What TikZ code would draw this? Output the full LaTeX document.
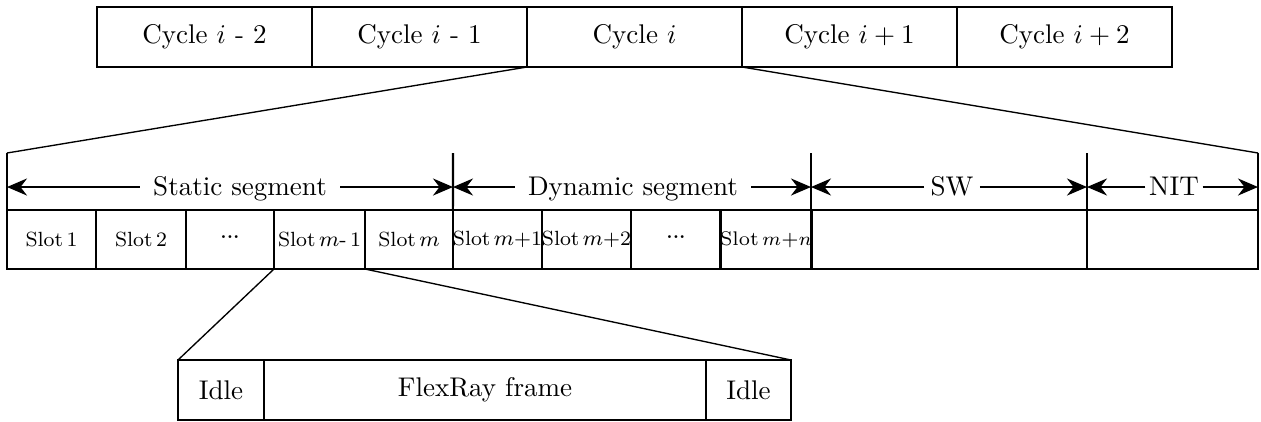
\documentclass[tikz,border=0pt]{standalone}
\usetikzlibrary{arrows.meta}
\newlength\pxl
\setlength\pxl{0.37pt}
\begin{document}
\begin{tikzpicture}[x=0.37pt,y=-0.37pt,
  box/.style={draw, line width=0.8pt, outer sep=0pt, inner sep=0pt,
    font=\fontsize{10}{12}\selectfont},
  cyc/.style={box, minimum width=215\pxl, minimum height=60\pxl},
  slot/.style={box, minimum height=59\pxl, font=\fontsize{7.6}{9}\selectfont},
  sub/.style={box, line width=0.45pt, minimum height=60\pxl},
  rule/.style={line width=0.8pt},
  zoomline/.style={line width=0.5pt},
  seglbl/.style={fill=white, inner ysep=0pt, text height=7.5pt, text depth=1.5pt,
    font=\fontsize{10}{12}\selectfont},
  dimarr/.style={line width=0.75pt, -{Stealth[length=7.4pt,width=6.3pt,inset=2.4pt]}}]
\useasboundingbox (0,0) rectangle (1261,421);

% communication cycles
\node[cyc] (c1) at (204.5,37) {Cycle $i$ - 2};
\node[cyc] (c2) at (419.5,37) {Cycle $i$ - 1};
\node[cyc] (c3) at (634.5,37) {Cycle $i$};
\node[cyc] (c4) at (849.5,37) {Cycle $i+1$};
\node[cyc] (c5) at (1064.5,37) {Cycle $i+2$};

% slots of one cycle
\newcommand\dotsmark{\raisebox{1.6pt}{\fontsize{6.5}{7}\selectfont\textbf{...}}}
\node[slot, minimum width=89\pxl]  (s1) at (51.5,239.5)  {Slot\,1};
\node[slot, minimum width=90\pxl]  (s2) at (141,239.5)   {Slot\,2};
\node[slot, minimum width=88\pxl]  (s3) at (230,239.5)   {\dotsmark};
\node[slot, minimum width=91\pxl]  (s4) at (319.5,239.5) {Slot\,$m$-\,1};
\node[slot, minimum width=88\pxl]  (s5) at (409,239.5)   {Slot\,$m$};
\node[slot, minimum width=89\pxl]  (s6) at (497.5,239.5) {Slot\,$m$+1};
\node[slot, minimum width=89\pxl]  (s7) at (586.5,239.5) {Slot\,$m$+2};
\node[slot, minimum width=90\pxl]  (s8) at (676,239.5)   {\dotsmark};
\node[slot, minimum width=90\pxl, font=\fontsize{7.3}{9}\selectfont]
  (s9) at (766,239.5) {Slot\,$m$+$n$};
\node[slot, minimum width=276\pxl] (sw) at (949,239.5)   {};
\node[slot, minimum width=171\pxl] (nit) at (1172.5,239.5) {};

% segment boundaries above the slots
\coordinate (h0) at (7,153);
\coordinate (h1) at (453,153);
\coordinate (h2) at (811,153);
\coordinate (h3) at (1087,153);
\coordinate (h4) at (1258,153);
\draw[rule] (h0) -- (s1.north west);
\draw[rule] (h1) -- (s6.north west);
\draw[rule] (h2) -- (sw.north west);
\draw[rule] (h3) -- (nit.north west);
\draw[rule] (h4) -- (nit.north east);

% segment labels with dimension arrows
\node[seglbl, inner xsep=4.8pt] (lst) at (240,187)  {Static segment};
\node[seglbl, inner xsep=4.8pt] (ldy) at (633,187)  {Dynamic segment};
\node[seglbl, inner xsep=2.2pt] (lsw) at (952,187)  {SW};
\node[seglbl, inner xsep=1.2pt] (lnit) at (1174,187) {NIT};
\draw[dimarr] (lst.west) -- (lst.west -| h0);
\draw[dimarr] (lst.east) -- (lst.east -| h1);
\draw[dimarr] (ldy.west) -- (ldy.west -| h1);
\draw[dimarr] (ldy.east) -- (ldy.east -| h2);
\draw[dimarr] (lsw.west) -- (lsw.west -| h2);
\draw[dimarr] (lsw.east) -- (lsw.east -| h3);
\draw[dimarr] (lnit.west) -- (lnit.west -| h3);
\draw[dimarr] (lnit.east) -- (lnit.east -| h4);

% structure of one slot
\node[sub, minimum width=86\pxl]  (idle1) at (221,390)   {Idle};
\node[sub, minimum width=442\pxl] (frame) at (485,390)   {FlexRay frame};
\node[sub, minimum width=85\pxl]  (idle2) at (748.5,390) {Idle};

% expansion lines
\draw[zoomline] (c3.south west) -- (h0);
\draw[zoomline] (c3.south east) -- (h4);
\draw[zoomline] (s4.south west) -- (idle1.north west);
\draw[zoomline] (s4.south east) -- (idle2.north east);
\end{tikzpicture}
\end{document}
